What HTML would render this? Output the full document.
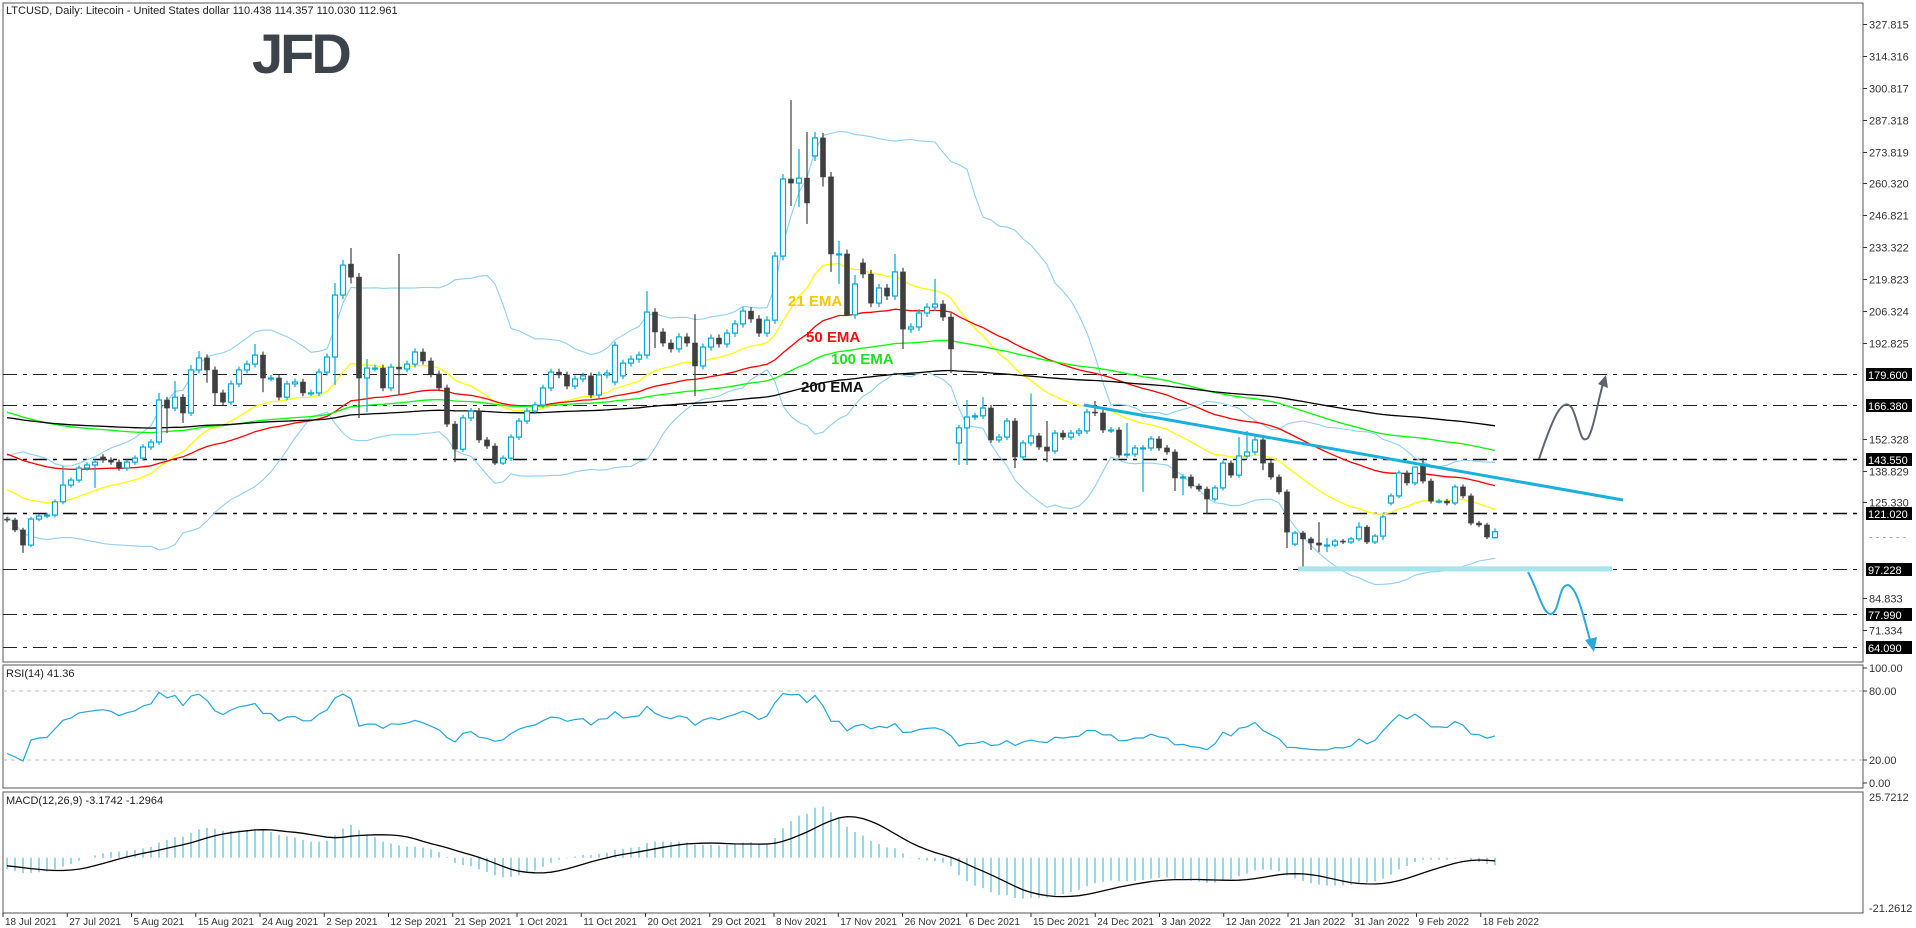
<!DOCTYPE html>
<html><head><meta charset="utf-8"><style>
html,body{margin:0;padding:0;background:#fff;}
svg{display:block;font-family:"Liberation Sans",sans-serif;}
</style></head><body>
<svg id="chart" width="1916" height="928" viewBox="0 0 1916 928" xmlns="http://www.w3.org/2000/svg">
<rect x="0" y="0" width="1916" height="928" fill="#fff"/>
<g id="frames"></g>
<text x="6" y="14" font-size="11" fill="#222">LTCUSD, Daily:  Litecoin - United States dollar  110.438 114.357 110.030 112.961</text>
<g><text x="252" y="73" font-size="56" font-weight="bold" fill="#3d434b" letter-spacing="-3" style="font-family:'Liberation Sans',sans-serif">JFD</text></g>
<g id="levels"></g><g id="bands"></g><g id="emas"></g><g id="candles"></g><g id="annot"></g>
<g id="rsi"></g><g id="macd"></g><g id="axes"></g>
</svg>
<script>
const closes=[117.9,113.7,107.3,118.3,119.6,120.0,125.6,132.7,134.8,139.9,141.2,142.4,143.3,142.4,139.9,142.4,144.1,148.8,150.9,168.7,165.3,169.9,163.2,181.4,186.5,181.4,171.7,167.8,175.5,181.4,183.9,187.7,178.0,178.0,169.9,175.5,176.3,171.7,171.7,180.5,186.9,213.1,225.8,220.7,178.0,182.2,182.2,173.8,182.6,181.8,183.9,189.0,185.2,179.7,173.8,158.5,147.9,161.1,164.0,151.8,149.2,142.0,144.1,153.0,159.8,164.0,166.6,173.8,180.5,179.3,174.6,177.6,178.9,170.8,179.3,180.1,191.9,184.3,186.0,187.7,205.9,197.5,192.8,190.3,195.4,192.8,183.1,191.1,194.9,192.4,197.0,200.9,206.3,203.0,197.0,202.5,229.6,262.2,260.5,262.6,252.1,279.6,263.1,230.5,230.5,204.7,217.8,222.0,209.7,216.1,212.7,222.9,198.7,199.6,205.5,208.0,209.3,203.8,190.3,156.9,161.5,162.0,165.3,151.8,153.0,159.8,144.6,150.5,153.5,148.8,147.1,154.7,153.0,154.7,155.6,163.6,163.2,156.0,156.0,145.4,145.8,148.4,148.4,152.2,148.4,146.7,135.7,136.1,132.3,131.0,126.8,131.5,142.0,136.9,145.0,146.7,151.8,142.0,136.1,129.8,112.8,112.4,109.9,108.2,107.3,107.3,109.0,108.6,109.9,114.9,108.6,111.1,119.2,128.1,137.8,133.6,140.3,134.4,125.9,125.9,125.1,131.9,128.1,116.6,115.8,110.7,112.961];
const gapOpens={0:118.3,12:144.6,43:226.2,76:176.3,77:178.9,101:272.0,107:226.7,119:150.5,161:107.7,173:125.1,177:141.2,186:110.438};
const highsOver={7:140.7,19:171.7,21:176.7,23:183.5,24:189.4,31:192.4,41:218.2,42:228,43:233,45:186,49:230.5,80:214.8,86:205,98:295.6,99:274.9,100:282.1,101:282.1,102:281.7,104:236,106:221.6,111:230.5,116:220,120:168.7,122:169.9,128:171.4,130:159.8,136:168.3,140:159,154:153,155:155.6,156:153.5,164:117,165:110.4,169:117,176:140.3,177:144.1,186:114.357};
const lowsOver={2:104,11:131.5,20:154.7,22:159,25:176,26:166.6,32:172,41:175,43:218,44:161.1,45:163.6,49:170.8,56:142.4,61:141.2,62:141.2,81:190.7,86:170.4,98:250.8,99:250.4,100:243.2,102:259,103:222.9,104:217.8,105:204.3,112:190.3,118:180.1,119:141.2,120:141.2,126:139.9,130:142.4,142:129.8,146:130.2,147:128.5,150:120.4,157:139,160:106,162:97.6,163:105.2,164:104.3,165:104.3,172:109.4,186:110.03};
const preCloses=[140,138,142,139,136,137,141,138,135,134,133,136,131,129,130,131,128,126,124,121];
const emaPeriods=[21,50,100,200];
const emaSeeds=[140,165,180,168];
const emaColors=["#ffff00","#ff0000","#00ff00","#000000"];
const levels=[179.6,166.38,143.55,121.02,97.23,77.99,64.09];
const levelLabels=["179.600","166.380","143.550","121.020","97.228","77.990","64.090"];
const priceTicks=[327.815,314.316,300.817,287.318,273.819,260.320,246.821,233.322,219.823,206.324,192.825,152.328,138.829,125.330,84.833,71.334];
const dateLabels=["18 Jul 2021","27 Jul 2021","5 Aug 2021","15 Aug 2021","24 Aug 2021","2 Sep 2021","12 Sep 2021","21 Sep 2021","1 Oct 2021","11 Oct 2021","20 Oct 2021","29 Oct 2021","8 Nov 2021","17 Nov 2021","26 Nov 2021","6 Dec 2021","15 Dec 2021","24 Dec 2021","3 Jan 2022","12 Jan 2022","21 Jan 2022","31 Jan 2022","9 Feb 2022","18 Feb 2022"];
const rsiTicks=[100,80,20,0];
const macdTicks=[25.7212,-21.2612];
const macdSeeds=[136,141,-4];

const NS="http://www.w3.org/2000/svg";
function mk(tag,attrs,parent){const e=document.createElementNS(NS,tag);for(const k in attrs)e.setAttribute(k,attrs[k]);document.getElementById(parent).appendChild(e);return e;}
const L=3,R=1863,MT=3,MB=662,RT=665,RB=788,CT=792,CB=913;
const py=v=>24+(327.815-v)*2.363;
const bx=i=>7+i*8.0;
const ry=v=>668+(100-v)*1.15;
const my=v=>797+(25.7212-v)*(111/46.9824);

let f;
f=mk('rect',{x:L,y:MT,width:R-L,height:MB-MT,fill:'none',stroke:'#555','stroke-width':1},'frames');

f=mk('rect',{x:L,y:RT,width:R-L,height:RB-RT,fill:'none',stroke:'#555','stroke-width':1},'frames');

f=mk('rect',{x:L,y:CT,width:R-L,height:CB-CT,fill:'none',stroke:'#555','stroke-width':1},'frames');


levels.forEach((v,k)=>{
  const y=Math.round(py(v))+0.5;const bold=(v===143.55||v===121.02);
  const ln=mk('line',{x1:L,x2:R,y1:y,y2:y,stroke:bold?'#000':'#222','stroke-width':bold?1.6:1,'stroke-dasharray':'14 6 4 6'},'levels');
  
  
  const bg=mk('rect',{x:1866,y:y-6.5,width:46,height:13,fill:'#000'},'axes');
  
  
  const t=mk('text',{x:1868,y:y+4.5,'font-size':11,fill:'#fff'},'axes');t.textContent=levelLabels[k];
  
  
});

priceTicks.forEach(v=>{const y=Math.round(py(v))+0.5;
  mk('line',{x1:R,x2:R+4,y1:y,y2:y,stroke:'#333'},'axes');
  const t=mk('text',{x:R+6,y:y+4,'font-size':11,fill:'#333'},'axes');t.textContent=v.toFixed(3);
  
  
});
const cur=mk('text',{x:R+6,y:py(110.5)+3,'font-size':11,fill:'#999'},'axes');cur.textContent='- - - - - -';



const N=closes.length;
const opens=closes.map((c,i)=>gapOpens[i]!==undefined?gapOpens[i]:(i?closes[i-1]:c));
const highs=closes.map((c,i)=>highsOver[i]!==undefined?highsOver[i]:Math.max(c,opens[i])*1.008);
const lows=closes.map((c,i)=>lowsOver[i]!==undefined?lowsOver[i]:Math.min(c,opens[i])*0.992);
const all=preCloses.concat(closes);const P=preCloses.length;
function ema(arr,p,seed){const k=2/(p+1);let e=seed;return arr.map(v=>(e=v*k+e*(1-k)));}

const upper=[],lower=[];
for(let i=0;i<N;i++){const w=all.slice(P+i-19,P+i+1);const m=w.reduce((a,b)=>a+b,0)/w.length;
 const sd=Math.sqrt(w.reduce((a,b)=>a+(b-m)*(b-m),0)/w.length);upper.push(m+2*sd);lower.push(m-2*sd);}
[upper,lower].forEach((arr,j)=>{const p=mk('path',{d:arr.map((v,i)=>(i?'L':'M')+bx(i)+','+py(v).toFixed(1)).join(''),fill:'none',stroke:'#8ccff5','stroke-width':1.1},'bands');
 
 });

emaPeriods.forEach((p,k)=>{const e=ema(all,p,emaSeeds[k]).slice(P);
 const pa=mk('path',{d:e.map((v,i)=>(i?'L':'M')+bx(i)+','+py(v).toFixed(1)).join(''),fill:'none',stroke:emaColors[k],'stroke-width':1.3},'emas');
 
 });

for(let i=0;i<N;i++){const x=bx(i),o=opens[i],c=closes[i],bull=c>=o;const col=bull?'#00a8d8':'#3f3f3f';
 const top=py(Math.max(o,c)),bot=py(Math.min(o,c));
 const g=mk('g',{},'candles');
 
 
 const w=document.createElementNS(NS,'line');w.setAttribute('x1',x);w.setAttribute('x2',x);w.setAttribute('y1',py(highs[i]));w.setAttribute('y2',py(lows[i]));w.setAttribute('stroke',col);w.setAttribute('stroke-width',1.2);g.appendChild(w);
 const r=document.createElementNS(NS,'rect');r.setAttribute('x',x-2.5);r.setAttribute('y',top);r.setAttribute('width',5);r.setAttribute('height',Math.max(bot-top,1));
 r.setAttribute('fill',bull?'#fff':'#3f3f3f');r.setAttribute('stroke',col);r.setAttribute('stroke-width',bull?1.2:0.6);g.appendChild(r);}

[["21 EMA",788,306,"#f5c800"],["50 EMA",806,342,"#ee1111"],["100 EMA",831,364,"#22dd22"],["200 EMA",801,392,"#111"]].forEach(a=>{
 const t=mk('text',{x:a[1],y:a[2],'font-size':15,'font-weight':'bold',fill:a[3]},'annot');t.textContent=a[0];
 
 });

let an;
an=mk('line',{x1:1084,y1:405,x2:1623,y2:500,stroke:'#1ab0dc','stroke-width':3},'annot');

an=mk('rect',{x:1298,y:py(97.23)-2.5,width:314,height:5,fill:'#a8e4ee'},'annot');

an=mk('path',{d:'M1539,459 C1552,420 1562,395 1572,408 C1580,425 1580,445 1588,438 C1594,428 1598,400 1604,380',fill:'none',stroke:'#5d6670','stroke-width':2},'annot');

an=mk('path',{d:'M1598,384 L1606,375 L1608,388 Z',fill:'#5d6670'},'annot');

an=mk('path',{d:'M1528,572 C1538,590 1543,615 1551,614 C1560,612 1558,585 1568,585 C1578,588 1584,620 1591,643',fill:'none',stroke:'#29a9e0','stroke-width':2},'annot');

an=mk('path',{d:'M1585,640 L1594,652 L1597,637 Z',fill:'#29a9e0'},'annot');


const deltas=all.map((v,i)=>i?v-all[i-1]:0);let ag=0,al=0;const rsi=[];
for(let i=1;i<all.length;i++){const d=deltas[i];const g=Math.max(d,0),l=Math.max(-d,0);
 if(i<=14){ag+=g/14;al+=l/14;}else{ag=(ag*13+g)/14;al=(al*13+l)/14;}
 if(i>=P)rsi.push(al===0?100:100-100/(1+ag/al));}
[80,20].forEach(v=>{const l=mk('line',{x1:L,x2:R,y1:ry(v),y2:ry(v),stroke:'#bbb','stroke-dasharray':'4 4'},'rsi');
 });
an=mk('path',{d:rsi.map((v,i)=>(i?'L':'M')+bx(i)+','+ry(v).toFixed(1)).join(''),fill:'none',stroke:'#1ea7dc','stroke-width':1.2},'rsi');

an=mk('text',{x:6,y:RT+12,'font-size':11,fill:'#222'},'rsi');an.textContent='RSI(14) 41.36';

rsiTicks.forEach(v=>{const t=mk('text',{x:R+6,y:ry(v)+4,'font-size':11,fill:'#333'},'axes');t.textContent=v.toFixed(2);
 
 mk('line',{x1:R,x2:R+4,y1:ry(v),y2:ry(v),stroke:'#333'},'axes');});

const e12=ema(all,12,macdSeeds[0]),e26=ema(all,26,macdSeeds[1]);
const macdAll=e12.map((v,i)=>v-e26[i]);const macd=macdAll.slice(P);
const sig=macdAll.map((v,i)=>{const w=macdAll.slice(Math.max(0,i-8),i+1);return w.reduce((a,b)=>a+b,0)/w.length;}).slice(P);
macd.forEach((v,i)=>{const b=mk('line',{x1:bx(i),x2:bx(i),y1:my(0),y2:my(v),stroke:'#3bb8e2','stroke-width':1.1},'macd');
 });
an=mk('path',{d:sig.map((v,i)=>(i?'L':'M')+bx(i)+','+my(v).toFixed(1)).join(''),fill:'none',stroke:'#000','stroke-width':1.3},'macd');

an=mk('text',{x:6,y:CT+12,'font-size':11,fill:'#222'},'macd');an.textContent='MACD(12,26,9) -3.1742 -1.2964';

macdTicks.forEach(v=>{const t=mk('text',{x:R+6,y:my(v)+4,'font-size':11,fill:'#333'},'axes');t.textContent=v.toFixed(4);
 });

dateLabels.forEach((d,k)=>{const x=3+k*64.25;
 mk('line',{x1:x,x2:x,y1:CB,y2:CB+4,stroke:'#333'},'axes');
 const t=mk('text',{x:x+2,y:925,'font-size':10,fill:'#333'},'axes');t.textContent=d;
 });
</script>
</body></html>
